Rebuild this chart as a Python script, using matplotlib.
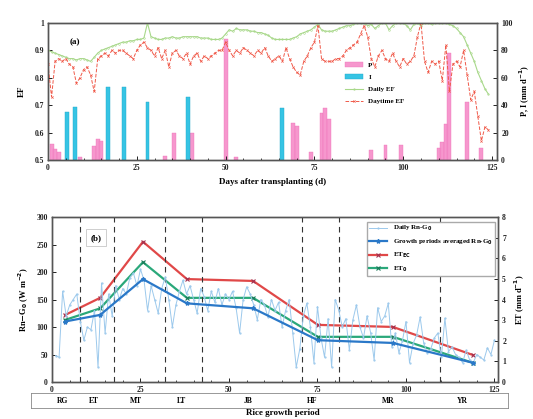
import numpy as np
import matplotlib
matplotlib.use('Agg')
import matplotlib.pyplot as plt
from matplotlib.ticker import MultipleLocator

plt.rcParams['font.family'] = ['Liberation Serif', 'DejaVu Serif']
plt.rcParams['font.weight'] = 'bold'
plt.rcParams['font.size'] = 6

# ---------------- panel (a) data ----------------
ef_days = np.arange(0, 125)
daily_ef = [
    0.90, 0.895, 0.89, 0.885, 0.88, 0.875, 0.87, 0.87, 0.865, 0.87,
    0.87, 0.865, 0.86, 0.875, 0.89, 0.90, 0.905, 0.91, 0.915, 0.92,
    0.925, 0.93, 0.93, 0.935, 0.935, 0.94, 0.94, 0.945, 1.00, 0.95,
    0.945, 0.94, 0.94, 0.945, 0.945, 0.95, 0.945, 0.945, 0.95, 0.95,
    0.95, 0.95, 0.95, 0.945, 0.945, 0.945, 0.94, 0.94, 0.94, 0.945,
    0.96, 0.975, 0.97, 0.98, 0.975, 0.975, 0.975, 0.97, 0.97, 0.965,
    0.965, 0.96, 0.955, 0.945, 0.94, 0.94, 0.94, 0.94, 0.94, 0.945,
    0.95, 0.96, 0.965, 0.97, 0.975, 0.985, 0.995, 0.975, 0.97, 0.97,
    0.97, 0.975, 0.98, 0.985, 0.99, 0.99, 0.995, 1.0, 1.0, 1.0,
    0.99, 0.995, 0.98, 0.99, 1.0, 1.0, 0.975, 0.99, 1.0, 1.0,
    1.0, 0.99, 0.975, 0.995, 1.0, 0.99, 1.0, 1.0, 0.995, 1.0,
    1.0, 1.0, 1.0, 0.995, 0.99, 0.98, 0.965, 0.95, 0.92, 0.89,
    0.86, 0.82, 0.79, 0.76, 0.74,
]
daytime_ef = [
    0.85, 0.73, 0.86, 0.87, 0.86, 0.87, 0.85, 0.84, 0.78, 0.80,
    0.83, 0.84, 0.81, 0.75, 0.87, 0.88, 0.89, 0.88, 0.90, 0.89,
    0.90, 0.90, 0.89, 0.88, 0.87, 0.90, 0.92, 0.93, 0.91, 0.90,
    0.88, 0.91, 0.87, 0.90, 0.84, 0.89, 0.90, 0.88, 0.87, 0.89,
    0.85, 0.88, 0.89, 0.86, 0.88, 0.87, 0.88, 0.89, 0.90, 0.90,
    0.93, 0.90, 0.88, 0.90, 0.89, 0.91, 0.90, 0.89, 0.88, 0.90,
    0.89, 0.91, 0.88, 0.86, 0.87, 0.88, 0.86, 0.91, 0.87, 0.84,
    0.82, 0.81, 0.86, 0.88, 0.91, 0.93, 0.99, 0.87, 0.86, 0.86,
    0.86, 0.87, 0.87, 0.88, 0.90, 0.91, 0.92, 0.93, 0.96, 0.99,
    0.95, 0.87, 0.84, 0.88, 0.90, 0.87, 0.86, 0.89, 0.86, 0.84,
    0.87, 0.85, 0.86, 0.88, 0.95, 1.00, 0.86, 0.82, 0.86, 0.85,
    0.86, 0.79, 0.92, 0.75, 0.85, 0.86, 0.84, 0.90, 0.81, 0.72,
    0.75, 0.66, 0.57, 0.62, 0.61,
]

p_days = [1, 2, 3, 9, 13, 14, 15, 33, 35.5, 40.5, 50, 53, 69, 70, 74,
          77, 78, 79, 91, 95, 99.5, 110, 111, 112, 113, 118, 122]
p_vals = [12, 8, 6, 2, 10, 15, 14, 3, 20, 20, 88, 2, 27, 25, 6,
          34, 38, 30, 7, 11, 11, 9, 13, 26, 78, 42, 9]
i_days = [5.3, 7.5, 16.8, 21.5, 28, 39.3, 65.8]
i_vals = [35, 39, 53, 53, 42, 46, 38]

# ---------------- panel (b) data ----------------
rn_days = np.arange(1, 126)
rn_daily = [
    48, 45, 165, 120, 140, 150, 160, 110, 76, 100,
    95, 130, 27, 180, 89, 160, 120, 175, 150, 170,
    160, 190, 198, 175, 205, 185, 130, 175, 150, 125,
    170, 191, 150, 100, 140, 165, 185, 160, 175, 150,
    125, 170, 155, 130, 165, 145, 170, 140, 160, 150,
    165, 135, 89, 150, 173, 160, 140, 113, 150, 140,
    118, 150, 130, 145, 100, 130, 150, 90, 27, 60,
    120, 143, 100, 35, 137, 80, 45, 115, 27, 150,
    131, 100, 115, 58, 113, 140, 100, 80, 120, 90,
    40, 135, 110, 120, 143, 64, 89, 53, 75, 110,
    35, 70, 85, 118, 71, 53, 60, 80, 89, 45,
    116, 55, 64, 50, 45, 35, 58, 40, 35, 50,
    45, 40, 62, 50, 76,
]
stage_mid = [3.7, 13.6, 25.7, 38.1, 56.8, 75.1, 96.3, 118.9]
rn_avg = [110, 122, 187, 143, 134, 76, 71, 35]
et_ec = [3.25, 4.08, 6.80, 4.99, 4.90, 2.77, 2.67, 1.31]
et_0 = [3.01, 3.57, 5.81, 4.08, 4.08, 2.19, 2.19, 0.93]

stage_bounds = [8, 17.5, 32, 42.5, 70.5, 81, 109.5]
stage_names = ['RG', 'ET', 'MT', 'LT', 'JB', 'HF', 'MR', 'YR']
stage_label_x = [3.1, 11.9, 23.7, 36.7, 55.4, 73.4, 94.9, 115.8]

frame_col = '#555555'


def style_axes(ax):
    for s in ax.spines.values():
        s.set_color(frame_col)
        s.set_linewidth(1.0)
    ax.tick_params(direction='in', length=3, width=0.7, colors='#222222',
                   labelsize=5.5, pad=3)
    ax.tick_params(which='minor', direction='in', length=1.5, width=0.5)


fig = plt.figure(figsize=(5.33, 4.19), dpi=100)

# ---------------- panel (a) ----------------
ax1 = fig.add_axes([48 / 533, 1 - 160 / 419, 449 / 533, 137 / 419])
ax1r = ax1.twinx()
ax1.set_zorder(ax1r.get_zorder() + 1)
ax1.patch.set_visible(False)

hp = ax1r.bar(p_days, p_vals, width=1.1, color='#f58cc8', edgecolor='#f070b8',
              linewidth=0.3, alpha=0.9, label='P')
hi = ax1r.bar(i_days, i_vals, width=1.1, color='#36c4e4', edgecolor='#20a8c8',
              linewidth=0.3, label='I')
hd, = ax1.plot(ef_days, daily_ef, color='#a8d88a', lw=0.8, marker='o',
               ms=1.2, mfc='none', mew=0.4, label='Daily EF')
ht, = ax1.plot(ef_days, daytime_ef, color='#f05a4a', lw=0.7, ls='--',
               marker='x', ms=1.6, mew=0.5, label='Daytime EF')

ax1.set_xlim(0, 126.4)
ax1.set_ylim(0.5, 1.0)
ax1r.set_ylim(0, 100)
ax1.xaxis.set_major_locator(MultipleLocator(25))
ax1.xaxis.set_minor_locator(MultipleLocator(5))
ax1.set_yticks([0.5, 0.6, 0.7, 0.8, 0.9, 1.0])
ax1.set_yticklabels(['0.5', '0.6', '0.7', '0.8', '0.9', '1'])
ax1r.set_yticks([0, 20, 40, 60, 80, 100])
style_axes(ax1)
style_axes(ax1r)
ax1.set_ylabel('EF', fontsize=6.5, fontweight='bold', labelpad=6)
ax1r.set_ylabel('P, I (mm d$^{-1}$)', fontsize=6, fontweight='bold', labelpad=4)
ax1.set_xlabel('Days after transplanting (d)', fontsize=6.5, fontweight='bold',
               labelpad=4)
ax1.text(7.5, 0.93, '(a)', fontsize=6.5, fontweight='bold', ha='center', va='center')
ax1.legend(handles=[hp, hi, hd, ht], loc='upper left',
           bbox_to_anchor=(0.65, 0.75), frameon=False, fontsize=5,
           handlelength=2.6, labelspacing=0.9, borderpad=0.2)

# ---------------- panel (b) ----------------
ax2 = fig.add_axes([52 / 533, 1 - 382 / 419, 446 / 533, 165 / 419])
ax2r = ax2.twinx()
ax2.set_zorder(ax2r.get_zorder() + 1)
ax2.patch.set_visible(False)

for b in stage_bounds:
    ax2.axvline(b, color='#333333', ls=(0, (5, 4)), lw=0.8, zorder=1)

hdr, = ax2.plot(rn_days, rn_daily, color='#9cc9ec', lw=0.7, marker='.',
                ms=1.2, label='Daily Rn-G$_0$', zorder=2)
her, = ax2r.plot(stage_mid, et_ec, color='#e04848', lw=1.6, marker='x',
                 ms=2.5, mew=0.8, mec='#a03050', label='ET$_{\\rm EC}$')
heg, = ax2r.plot(stage_mid, et_0, color='#2aa87a', lw=1.6, marker='x',
                 ms=2.5, mew=0.8, mec='#1a7858', label='ET$_{\\rm 0}$')
hav, = ax2.plot(stage_mid, rn_avg, color='#2a78c8', lw=1.6, marker='*',
                ms=3, label='Growth periods averaged Rn-G$_0$', zorder=3)

ax2.set_xlim(0, 126)
ax2.set_ylim(0, 300)
ax2r.set_ylim(0, 8)
ax2.xaxis.set_major_locator(MultipleLocator(25))
ax2.xaxis.set_minor_locator(MultipleLocator(5))
ax2.yaxis.set_major_locator(MultipleLocator(50))
ax2r.yaxis.set_major_locator(MultipleLocator(1))
style_axes(ax2)
style_axes(ax2r)
ax2.set_ylabel('Rn$-$G$_0$ (W m$^{-2}$)', fontsize=6, fontweight='bold', labelpad=4)
ax2r.set_ylabel('ET (mm d$^{-1}$)', fontsize=6, fontweight='bold', labelpad=5)
ax2.text(12.5, 262, '(b)', fontsize=6.5, fontweight='bold', ha='center', va='center',
         bbox=dict(boxstyle='square,pad=0.5', fc='white', ec='#bbbbbb', lw=0.5))
ax2.legend(handles=[hdr, hav, her, heg], loc='upper right',
           bbox_to_anchor=(1.0, 0.99), frameon=True, fancybox=False,
           edgecolor='#aaaaaa', framealpha=1, fontsize=5, handlelength=2.6,
           labelspacing=0.6, borderpad=0.3)

# growth period strip under panel (b)
ax3 = fig.add_axes([31 / 533, 1 - 408 / 419, 477 / 533, 15 / 419])
ax3.set_xlim(-5.9, 128.8)
ax3.set_ylim(0, 1)
ax3.set_xticks([])
ax3.set_yticks([])
for s in ax3.spines.values():
    s.set_color('#888888')
    s.set_linewidth(0.6)
for name, x in zip(stage_names, stage_label_x):
    ax3.text(x, 0.5, name, fontsize=5.5, fontweight='bold', ha='center', va='center')
fig.text(283 / 533, 1 - 409 / 419, 'Rice growth period', fontsize=6.5,
         fontweight='bold', ha='center', va='top')

fig.savefig('out.png', dpi=100)
